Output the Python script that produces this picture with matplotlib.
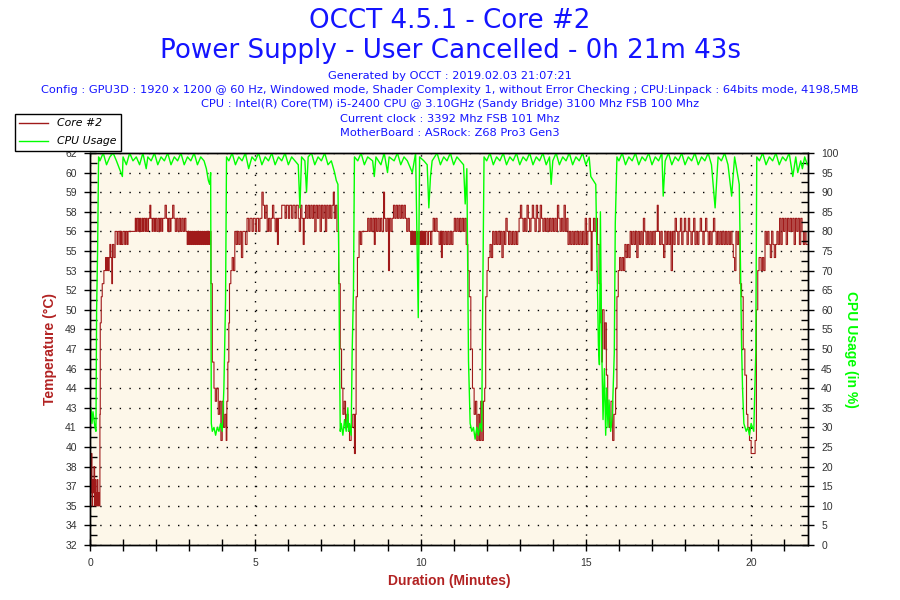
import matplotlib
matplotlib.use("Agg")
import matplotlib.pyplot as plt
from matplotlib.ticker import MultipleLocator, FixedLocator
from matplotlib.lines import Line2D

plt.rcParams['font.family'] = ['Liberation Sans', 'DejaVu Sans']

# core #2 temperature: (minutes, deg C)
temp_data = [
    (0.00, 38), (0.02, 36), (0.04, 39), (0.06, 35), (0.08, 37), (0.10, 36), (0.12, 38),
    (0.14, 35), (0.16, 37), (0.18, 36), (0.20, 35), (0.22, 37), (0.24, 35), (0.26, 36),
    (0.28, 35), (0.30, 42), (0.31, 49), (0.34, 51), (0.37, 52), (0.42, 53), (0.47, 54),
    (0.50, 53), (0.52, 54), (0.55, 53), (0.58, 54), (0.60, 55), (0.63, 54), (0.66, 52),
    (0.68, 55), (0.72, 54), (0.76, 56), (0.82, 55), (0.85, 56), (0.90, 55), (0.93, 56),
    (0.96, 55), (1.00, 56), (1.05, 55), (1.08, 56), (1.12, 55), (1.15, 56), (1.37, 57),
    (1.40, 56), (1.43, 57), (1.47, 56), (1.50, 57), (1.53, 56), (1.57, 57), (1.60, 56),
    (1.63, 57), (1.67, 56), (1.70, 57), (1.73, 56), (1.77, 57), (1.81, 58), (1.84, 57),
    (1.88, 56), (1.91, 57), (1.95, 56), (1.98, 57), (2.02, 56), (2.06, 57), (2.10, 56),
    (2.13, 57), (2.17, 56), (2.20, 57), (2.27, 58), (2.31, 57), (2.35, 56), (2.38, 57),
    (2.42, 56), (2.45, 57), (2.50, 58), (2.54, 57), (2.58, 56), (2.62, 57), (2.66, 56),
    (2.70, 57), (2.74, 56), (2.78, 57), (2.82, 56), (2.86, 57), (2.90, 56), (2.94, 55),
    (2.97, 56), (3.00, 55), (3.03, 56), (3.06, 55), (3.09, 56), (3.12, 55), (3.15, 56),
    (3.18, 55), (3.21, 56), (3.24, 55), (3.27, 56), (3.30, 55), (3.33, 56), (3.36, 55),
    (3.39, 56), (3.42, 55), (3.45, 56), (3.48, 55), (3.51, 56), (3.54, 55), (3.57, 56),
    (3.60, 55), (3.63, 56),
    (3.66, 52), (3.70, 46), (3.75, 44), (3.79, 43), (3.83, 44), (3.88, 42), (3.92, 43),
    (3.96, 40), (4.00, 43), (4.04, 41), (4.08, 42), (4.12, 40), (4.14, 43), (4.17, 46),
    (4.20, 49), (4.22, 52), (4.26, 53), (4.30, 54), (4.34, 53), (4.38, 56), (4.42, 55),
    (4.46, 56), (4.50, 55), (4.54, 56), (4.58, 54), (4.62, 56), (4.70, 55), (4.75, 57),
    (4.80, 56), (4.84, 57), (4.90, 56), (4.94, 57), (5.00, 56), (5.04, 57), (5.10, 56),
    (5.14, 57), (5.20, 59), (5.24, 58), (5.28, 57), (5.32, 58), (5.36, 56), (5.40, 57),
    (5.44, 56), (5.48, 57), (5.52, 58), (5.56, 57), (5.60, 56), (5.64, 57), (5.67, 55),
    (5.70, 57), (5.80, 58), (5.84, 58), (5.90, 57), (5.94, 58), (6.00, 57), (6.04, 58),
    (6.10, 57), (6.14, 58), (6.20, 57), (6.24, 58), (6.30, 57), (6.33, 56), (6.37, 58),
    (6.41, 57), (6.45, 55), (6.48, 57), (6.52, 58), (6.56, 57), (6.60, 58), (6.64, 57),
    (6.68, 58), (6.72, 57), (6.76, 58), (6.80, 56), (6.84, 58), (6.88, 57), (6.92, 58),
    (6.96, 56), (7.00, 58), (7.04, 57), (7.08, 58), (7.12, 56), (7.16, 58), (7.20, 57),
    (7.24, 58), (7.28, 57), (7.32, 58), (7.36, 59), (7.39, 57), (7.43, 58), (7.47, 56),
    (7.52, 52), (7.57, 47), (7.61, 44), (7.65, 42), (7.69, 43), (7.73, 41), (7.77, 42),
    (7.81, 41), (7.85, 40), (7.90, 41), (7.95, 42), (8.00, 39), (8.03, 42), (8.05, 51),
    (8.09, 54), (8.14, 56), (8.18, 55), (8.22, 56), (8.40, 57), (8.44, 56), (8.48, 57),
    (8.52, 56), (8.56, 57), (8.60, 55), (8.63, 57), (8.67, 56), (8.71, 57), (8.75, 56),
    (8.79, 57), (8.83, 56), (8.88, 59), (8.91, 57), (8.95, 56), (8.99, 57), (9.03, 53),
    (9.06, 57), (9.10, 56), (9.14, 57), (9.18, 58), (9.22, 57), (9.26, 58), (9.30, 57),
    (9.34, 58), (9.38, 57), (9.42, 58), (9.46, 57), (9.50, 58), (9.54, 57), (9.58, 56),
    (9.62, 57), (9.66, 56), (9.70, 55), (9.73, 56), (9.76, 55), (9.79, 56), (9.82, 55),
    (9.85, 56), (9.88, 55), (9.91, 56), (9.94, 55), (9.97, 56), (10.00, 55), (10.03, 56),
    (10.06, 55), (10.09, 56), (10.12, 55), (10.15, 56), (10.20, 55), (10.24, 56),
    (10.30, 55), (10.34, 56), (10.38, 57), (10.42, 56), (10.46, 57), (10.50, 56),
    (10.56, 55), (10.60, 56), (10.63, 54), (10.66, 56), (10.70, 55), (10.74, 56),
    (10.78, 55), (10.82, 56), (10.86, 55), (10.90, 56), (10.94, 55), (10.98, 56),
    (11.02, 57), (11.06, 56), (11.10, 57), (11.14, 56), (11.18, 57), (11.22, 56),
    (11.26, 57), (11.30, 56), (11.34, 57), (11.38, 55),
    (11.43, 53), (11.47, 51), (11.52, 47), (11.57, 44), (11.62, 42), (11.66, 43),
    (11.70, 40), (11.74, 42), (11.78, 40), (11.82, 43), (11.86, 40), (11.90, 43),
    (11.94, 44), (11.97, 51), (12.01, 53), (12.05, 54), (12.10, 55), (12.14, 54),
    (12.18, 56), (12.22, 55), (12.26, 56), (12.30, 55), (12.34, 56), (12.38, 55),
    (12.42, 56), (12.46, 54), (12.50, 56), (12.54, 55), (12.58, 57), (12.62, 56),
    (12.66, 55), (12.70, 56), (12.74, 55), (12.78, 56), (12.82, 55), (12.86, 56),
    (12.90, 55), (12.94, 56), (12.98, 57), (13.02, 58), (13.06, 57), (13.10, 56),
    (13.14, 57), (13.18, 56), (13.22, 58), (13.26, 57), (13.30, 56), (13.34, 57),
    (13.38, 58), (13.42, 57), (13.46, 56), (13.50, 58), (13.54, 57), (13.58, 56),
    (13.62, 58), (13.66, 57), (13.70, 56), (13.74, 57), (13.78, 56), (13.82, 57),
    (13.86, 56), (13.90, 57), (13.94, 56), (13.98, 57), (14.02, 56), (14.06, 57),
    (14.10, 56), (14.14, 58), (14.18, 57), (14.22, 56), (14.26, 57), (14.30, 56),
    (14.34, 58), (14.38, 56), (14.42, 57), (14.46, 55), (14.50, 56), (14.54, 55),
    (14.58, 56), (14.62, 55), (14.66, 56), (14.70, 55), (14.74, 56), (14.78, 55),
    (14.82, 56), (14.86, 55), (14.90, 56), (14.94, 55), (14.98, 57), (15.02, 55),
    (15.06, 56), (15.10, 57), (15.14, 56), (15.16, 53), (15.19, 56), (15.23, 57),
    (15.27, 56), (15.31, 57), (15.35, 55),
    (15.40, 52), (15.45, 49), (15.48, 46), (15.50, 50), (15.55, 47), (15.58, 49),
    (15.62, 45), (15.66, 42), (15.71, 41), (15.76, 43), (15.81, 40), (15.85, 42),
    (15.90, 44), (15.94, 51), (15.98, 53), (16.02, 54), (16.06, 53), (16.10, 54),
    (16.14, 53), (16.18, 55), (16.22, 54), (16.26, 55), (16.30, 54), (16.34, 56),
    (16.38, 55), (16.42, 56), (16.46, 55), (16.50, 56), (16.54, 54), (16.58, 56),
    (16.62, 55), (16.66, 56), (16.70, 55), (16.74, 57), (16.78, 56), (16.82, 55),
    (16.86, 56), (16.90, 55), (16.94, 56), (16.98, 55), (17.02, 56), (17.06, 55),
    (17.10, 56), (17.16, 58), (17.19, 56), (17.23, 55), (17.27, 56), (17.31, 55),
    (17.35, 54), (17.39, 56), (17.43, 55), (17.47, 56), (17.51, 55), (17.55, 56),
    (17.58, 53), (17.62, 56), (17.66, 55), (17.70, 57), (17.74, 56), (17.78, 55),
    (17.82, 56), (17.86, 57), (17.90, 55), (17.94, 56), (17.98, 57), (18.02, 56),
    (18.06, 55), (18.10, 57), (18.14, 56), (18.18, 55), (18.22, 56), (18.26, 57),
    (18.30, 55), (18.34, 56), (18.38, 55), (18.42, 56), (18.46, 57), (18.50, 56),
    (18.54, 55), (18.58, 56), (18.62, 57), (18.66, 56), (18.70, 55), (18.74, 56),
    (18.78, 55), (18.82, 56), (18.86, 57), (18.90, 56), (18.94, 55), (18.98, 56),
    (19.02, 55), (19.06, 56), (19.10, 55), (19.14, 56), (19.18, 55), (19.22, 56),
    (19.26, 55), (19.30, 56), (19.34, 55), (19.38, 56), (19.42, 55), (19.46, 54),
    (19.50, 53), (19.54, 56), (19.58, 55), (19.62, 56),
    (19.66, 52), (19.71, 51), (19.76, 47), (19.81, 45), (19.86, 42), (19.90, 41),
    (19.95, 40), (20.00, 39), (20.08, 39), (20.12, 40), (20.16, 50), (20.20, 53),
    (20.24, 54), (20.30, 53), (20.34, 54), (20.38, 53), (20.42, 56), (20.46, 55),
    (20.50, 56), (20.54, 55), (20.58, 54), (20.62, 56), (20.66, 55), (20.70, 54),
    (20.74, 55), (20.78, 56), (20.82, 55), (20.86, 57), (20.90, 55), (20.94, 57),
    (20.98, 56), (21.02, 57), (21.06, 55), (21.10, 57), (21.14, 56), (21.18, 57),
    (21.22, 56), (21.26, 57), (21.30, 55), (21.34, 57), (21.38, 56), (21.42, 57),
    (21.46, 55), (21.50, 57), (21.54, 56), (21.58, 55), (21.62, 56), (21.66, 55),
    (21.70, 55),
]

# cpu usage: (minutes, %)
cpu_data = [
    (0.00, 33), (0.03, 35), (0.06, 31), (0.09, 34), (0.12, 32), (0.15, 30), (0.18, 29),
    (0.20, 60), (0.23, 75), (0.26, 99), (0.30, 98), (0.40, 100), (0.50, 97), (0.60, 99),
    (0.70, 100), (0.80, 98), (0.98, 94), (1.00, 99), (1.10, 97), (1.20, 100), (1.30, 98),
    (1.40, 99), (1.50, 97), (1.60, 100), (1.70, 96), (1.75, 99), (1.85, 98), (1.95, 100),
    (2.05, 97), (2.15, 99), (2.25, 98), (2.35, 100), (2.45, 97), (2.55, 99), (2.65, 98),
    (2.75, 100), (2.85, 97), (2.95, 99), (3.05, 98), (3.15, 100), (3.25, 97), (3.35, 99),
    (3.45, 98), (3.52, 96), (3.58, 93), (3.62, 92), (3.65, 95),
    (3.67, 31), (3.70, 29), (3.75, 30), (3.80, 28), (3.85, 30), (3.90, 29), (3.95, 31),
    (4.00, 29), (4.05, 40), (4.10, 62), (4.13, 99),
    (4.20, 98), (4.30, 100), (4.40, 97), (4.50, 99), (4.60, 98), (4.70, 100), (4.80, 96),
    (4.90, 99), (5.00, 98), (5.10, 100), (5.20, 97), (5.30, 99), (5.40, 98), (5.50, 100),
    (5.60, 97), (5.70, 99), (5.80, 98), (5.90, 100), (6.00, 97), (6.10, 99), (6.20, 98),
    (6.30, 97), (6.35, 86), (6.40, 99), (6.50, 98), (6.55, 90), (6.60, 99), (6.70, 100),
    (6.80, 97), (6.90, 99), (7.00, 98), (7.10, 100), (7.20, 97), (7.30, 98), (7.40, 95),
    (7.45, 93), (7.50, 92),
    (7.53, 70), (7.55, 47), (7.57, 29), (7.60, 31), (7.65, 28), (7.70, 32), (7.75, 29),
    (7.80, 35), (7.82, 29), (7.85, 31), (7.90, 28), (7.93, 49), (7.97, 65), (8.00, 99),
    (8.10, 98), (8.20, 100), (8.30, 97), (8.40, 99), (8.55, 98), (8.60, 94), (8.65, 99),
    (8.80, 97), (8.90, 100), (9.00, 95), (9.05, 99), (9.20, 98), (9.30, 100), (9.40, 97),
    (9.50, 99), (9.60, 98), (9.75, 95), (9.85, 100), (9.93, 58), (9.97, 99), (10.10, 98),
    (10.20, 97), (10.25, 86), (10.30, 94), (10.35, 98), (10.50, 100), (10.60, 97),
    (10.70, 99), (10.80, 98), (10.90, 100), (11.00, 97), (11.10, 99), (11.20, 98),
    (11.30, 97), (11.35, 87), (11.40, 96),
    (11.45, 47), (11.50, 31), (11.55, 29), (11.60, 30), (11.65, 27), (11.70, 30),
    (11.75, 28), (11.80, 31), (11.85, 29), (11.87, 53), (11.92, 99),
    (12.00, 98), (12.10, 100), (12.20, 97), (12.30, 99), (12.40, 98), (12.50, 100),
    (12.60, 97), (12.70, 99), (12.80, 98), (12.90, 100), (13.00, 97), (13.10, 99),
    (13.20, 98), (13.30, 100), (13.40, 97), (13.50, 99), (13.60, 98), (13.70, 100),
    (13.80, 97), (13.90, 99), (13.95, 92), (14.00, 98), (14.10, 100), (14.20, 97),
    (14.30, 99), (14.40, 98), (14.50, 100), (14.60, 97), (14.70, 99), (14.80, 98),
    (14.90, 100), (15.00, 97), (15.10, 99), (15.15, 94), (15.30, 92),
    (15.38, 51), (15.41, 46), (15.44, 85), (15.48, 50), (15.52, 32), (15.56, 45),
    (15.60, 28), (15.63, 40), (15.67, 30), (15.70, 37), (15.75, 29), (15.80, 33),
    (15.86, 49), (15.89, 82), (15.94, 99),
    (16.00, 98), (16.10, 100), (16.20, 97), (16.30, 99), (16.40, 98), (16.50, 100),
    (16.60, 97), (16.70, 99), (16.80, 98), (16.90, 100), (17.00, 97), (17.10, 99),
    (17.20, 98), (17.30, 100), (17.34, 89), (17.40, 98), (17.50, 100), (17.60, 97),
    (17.70, 99), (17.80, 98), (17.90, 100), (18.00, 97), (18.10, 99), (18.20, 98),
    (18.30, 100), (18.40, 97), (18.50, 99), (18.60, 98), (18.70, 100), (18.80, 97),
    (18.91, 86), (19.00, 99), (19.10, 98), (19.20, 100), (19.30, 97), (19.41, 89),
    (19.50, 99), (19.56, 96), (19.64, 92),
    (19.68, 70), (19.71, 51), (19.74, 40), (19.78, 31), (19.85, 29), (19.90, 30),
    (19.95, 28), (20.00, 31), (20.08, 29), (20.14, 49), (20.17, 99),
    (20.25, 98), (20.35, 100), (20.45, 97), (20.55, 99), (20.65, 98), (20.75, 100),
    (20.85, 97), (20.95, 99), (21.05, 98), (21.15, 100), (21.26, 94), (21.35, 99),
    (21.41, 95), (21.50, 98), (21.55, 96), (21.62, 99), (21.70, 97),
]

temp_t = [p[0] for p in temp_data]
temp_v = [p[1] for p in temp_data]
cpu_t = [p[0] for p in cpu_data]
cpu_v = [p[1] for p in cpu_data]

temp_ticks = [32 + 1.5 * i for i in range(21)]
temp_labels = ['32', '34', '35', '37', '38', '40', '41', '43', '44', '46', '47',
               '49', '50', '52', '53', '55', '56', '58', '59', '60', '62']

title_lines = ["OCCT 4.5.1 - Core #2", "Power Supply - User Cancelled - 0h 21m 43s"]
info_lines = ["Generated by OCCT : 2019.02.03 21:07:21",
              "Config : GPU3D : 1920 x 1200 @ 60 Hz, Windowed mode, Shader Complexity 1, "
              "without Error Checking ; CPU:Linpack : 64bits mode, 4198,5MB",
              "CPU : Intel(R) Core(TM) i5-2400 CPU @ 3.10GHz (Sandy Bridge) 3100 Mhz FSB 100 Mhz",
              "Current clock : 3392 Mhz FSB 101 Mhz",
              "MotherBoard : ASRock: Z68 Pro3 Gen3"]

red = '#A01A1A'
green = '#00FF00'
blue = '#1414FF'

fig = plt.figure(figsize=(9, 6), dpi=100)
ax = fig.add_axes([90 / 900, 1 - 545 / 600, 718 / 900, 392 / 600])
ax.set_facecolor('#FDF7E9')
ax2 = ax.twinx()

ax.plot(temp_t, temp_v, color=red, lw=0.8, drawstyle='steps-post')
ax2.plot(cpu_t, cpu_v, color=green, lw=1.0)

ax.set_xlim(0, 21.72)
ax.set_ylim(32, 62)
ax2.set_ylim(0, 100)

ax.set_yticks(temp_ticks)
ax.set_yticklabels(temp_labels)
ax.yaxis.set_minor_locator(FixedLocator([32.75 + 1.5 * i for i in range(20)]))
ax2.yaxis.set_major_locator(MultipleLocator(5))
ax2.yaxis.set_minor_locator(MultipleLocator(2.5))
ax.xaxis.set_major_locator(MultipleLocator(5))
ax.xaxis.set_minor_locator(MultipleLocator(1))

for a in (ax, ax2):
    a.tick_params(which='major', direction='inout', length=9, width=1,
                  labelsize=7.5, labelcolor='#333333', pad=5)
    a.tick_params(which='minor', direction='in', length=5, width=1)
    for s in a.spines.values():
        s.set_linewidth(1)
ax.tick_params(axis='x', which='minor', direction='inout', length=9)

ax.grid(True, which='major', color='black', linestyle=(0, (1, 6)), linewidth=1)

ax.set_xlabel('Duration (Minutes)', color='#B22222', fontsize=10, fontweight='bold',
              labelpad=4)
ax.set_ylabel('Temperature (°C)', color='#B22222', fontsize=10, fontweight='bold',
              labelpad=6)
ax2.set_ylabel('CPU Usage (in %)', color=green, fontsize=10, fontweight='bold',
               rotation=-90, labelpad=14)

fig.text(0.5, 1 - 21 / 600, title_lines[0], ha='center', va='center',
         fontsize=18.8, color=blue, family='DejaVu Sans')
fig.text(0.5, 1 - 51 / 600, title_lines[1], ha='center', va='center',
         fontsize=18.8, color=blue, family='DejaVu Sans')
for i, line in enumerate(info_lines):
    fig.text(0.5, 1 - (76 + 14.2 * i) / 600, line, ha='center', va='center',
             fontsize=8.2, color=blue, family='DejaVu Sans')

handles = [Line2D([], [], color=red, lw=1), Line2D([], [], color=green, lw=1)]
leg = fig.legend(handles, ['Core #2', 'CPU Usage'], loc='upper left',
                 bbox_to_anchor=(15 / 900, 1 - 114 / 600), fancybox=False,
                 edgecolor='black', framealpha=1, borderpad=0.4, labelspacing=0.75,
                 handlelength=2.6, handletextpad=0.9, borderaxespad=0,
                 prop={'family': 'DejaVu Sans', 'style': 'italic', 'size': 7.8})
leg.get_frame().set_linewidth(1)

fig.savefig('out.png', dpi=100, facecolor='white')
